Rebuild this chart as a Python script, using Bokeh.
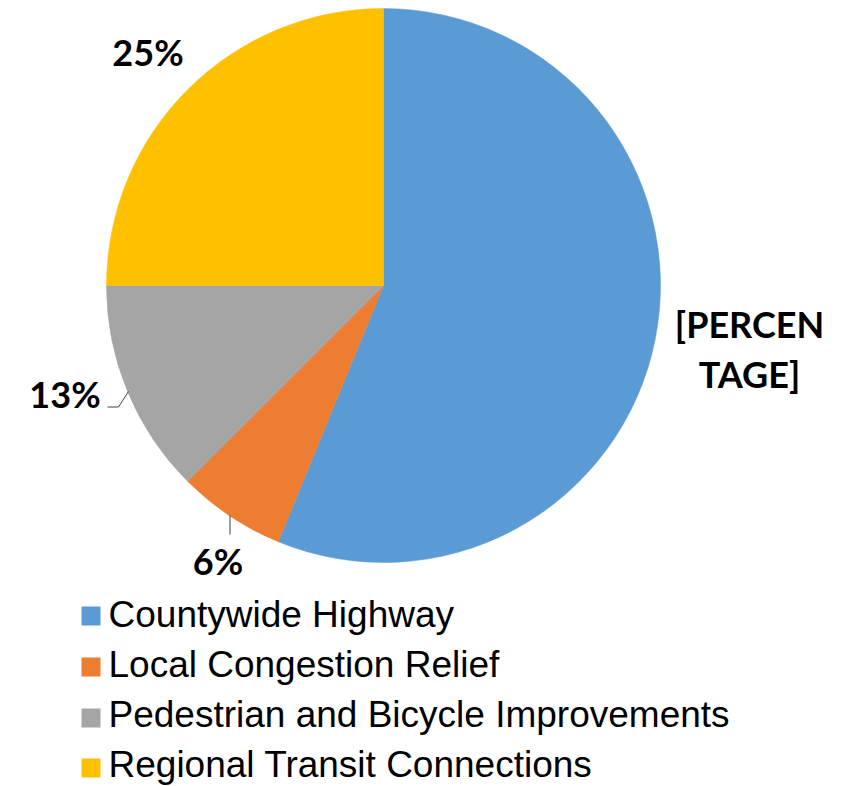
from bokeh.plotting import figure
from bokeh.models import Range1d, ColumnDataSource
from bokeh.core.properties import value
from bokeh.embed import file_html
from bokeh.resources import INLINE

# ---- data ----
categories = ["Countywide Highway", "Local Congestion Relief",
              "Pedestrian and Bicycle Improvements", "Regional Transit Connections"]
shares = [56.2, 6.3, 12.5, 25.0]
slice_labels = ["[PERCEN\nTAGE]", "6%", "13%", "25%"]
colors = ["#5B9BD5", "#ED7D31", "#A5A5A5", "#FFC000"]

# ---- layout (pixel coordinates of the picture) ----
W, H = 851, 786
CX, CY, R = 383, 285, 277
label_pos = [(749, 338), (217.5, 575), (64.5, 408), (147.5, 66.5)]  # baseline positions
label_line_pitch = 50
label_shift = 15      # renderer places alphabetic text this much lower
leaders = [None,
           ([229.5, 229.5], [515, 534]),
           ([107, 118, 128], [406.5, 406.5, 391]),
           None]
legend_x_sq, legend_x_txt = 90.5, 108
legend_baselines = [627, 677, 727, 777]
legend_sq_centers = [615.5, 666.5, 717.5, 767.5]
legend_shift = 13
sq = 19

p = figure(width=W, height=H, output_backend="svg", toolbar_location=None,
           x_range=Range1d(0, W), y_range=Range1d(-H, 0),
           min_border=0, min_border_left=0, min_border_right=0,
           min_border_top=0, min_border_bottom=0)
p.axis.visible = False
p.grid.visible = False
p.outline_line_color = None
p.background_fill_color = "white"
p.border_fill_color = "white"

# wedges clockwise from 12 o'clock
total = sum(shares)
starts, ends = [], []
cum = 0.0
for s in shares:
    a0 = 90 - (cum + s) / total * 360
    a1 = 90 - cum / total * 360
    starts.append(a0)
    ends.append(a1)
    cum += s

src = ColumnDataSource(dict(x=[CX] * 4, y=[-CY] * 4, start=starts, end=ends,
                            color=colors, cat=categories))
p.wedge(x="x", y="y", radius=R, start_angle="start", end_angle="end",
        start_angle_units="deg", end_angle_units="deg",
        fill_color="color", line_color="color", line_width=0.5,
        source=src)

# leader lines
for ld in leaders:
    if ld is None:
        continue
    xs, ys = ld
    p.line(xs, [-v for v in ys], line_color="#404040", line_width=1)

# slice labels
tx, ty, tt = [], [], []
for lab, (lx, ly) in zip(slice_labels, label_pos):
    for i, line in enumerate(lab.split("\n")):
        tx.append(lx)
        ty.append(-(ly + i * label_line_pitch - label_shift))
        tt.append(line)
p.text(x=tx, y=ty, text=tt, text_font=value("Lato"), text_font_style="bold",
       text_font_size="36px", text_align="center", text_baseline="alphabetic",
       text_color="black")

# legend
p.rect(x=[legend_x_sq] * 4, y=[-c for c in legend_sq_centers],
       width=sq, height=sq, fill_color=colors, line_color=None)
p.text(x=[legend_x_txt] * 4, y=[-(b - legend_shift) for b in legend_baselines],
       text=categories,
       text_font=value("Liberation Sans"), text_font_size="37px",
       text_align="left", text_baseline="alphabetic", text_color="black")

open("out.html", "w").write(file_html(p, INLINE))
